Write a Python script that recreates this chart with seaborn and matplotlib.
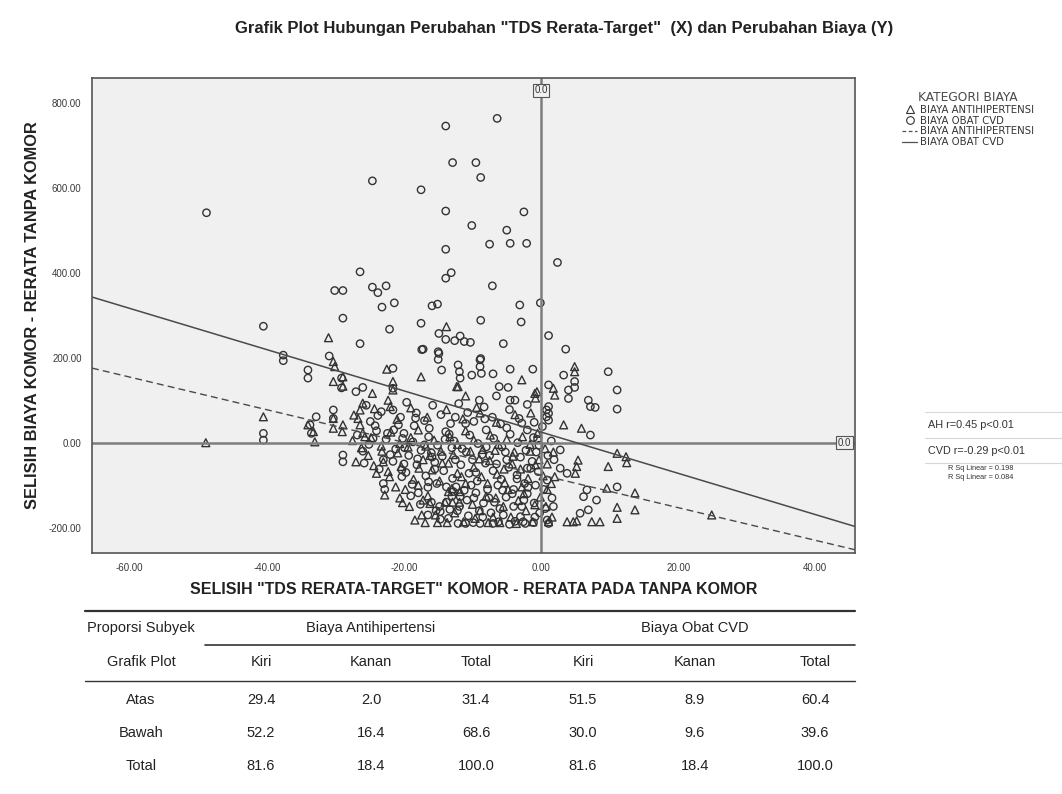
import numpy as np
import pandas as pd
import matplotlib
matplotlib.use("Agg")
import matplotlib.pyplot as plt
import seaborn as sns
from matplotlib.lines import Line2D
from matplotlib.transforms import blended_transform_factory

# -------------------------------------
# DATA
# -------------------------------------
# BIAYA OBAT CVD (circles)
cvd_x = [-48.8, -24.6, -13.9, -6.4, -12.9, -9.5, -8.8, -17.5, -13.9, -2.5,
         -10.1, -5.0, -7.5, -4.5, -2.1, -13.9, 2.4, -26.4, -13.1, -13.9,
         -7.1, -30.1, -28.9, -24.6, -23.8, -22.6, -21.4, -23.2, -15.9, -15.1,
         -3.1, -0.1, 1.1, -2.9, -8.8, -5.5, -17.5, -22.1, -28.9, -26.4,
         -17.4, -40.5, -14.9, -13.9, -12.6, -11.8, -11.2, -10.3, -14.9, -8.8,
         -37.6, -37.6, -34.0, -34.0, -30.9, -29.1, -29.1, -21.6, -27.0, -26.0,
         -21.6, -23.3, -21.6, -30.3, -30.3, -32.8, -33.7, -33.5, -40.5, -40.5,
         -17.2, -15.0, -15.0, -14.5, -12.1, -11.9, -11.8, -8.9, -8.9, -8.7,
         -10.1, -7.0, -4.5, -1.2, -6.1, -4.8, -4.5, -3.8, 0.8, 0.8,
         3.6, 3.3, 9.8, 1.1, 4.0, 4.0, 11.1, 11.1, 6.9, 7.2,
         7.9, 1.1, 1.1, 1.1, 7.2, 2.8, 11.1, 3.8, 2.8, 6.7,
         6.2, 8.1, 6.9, 5.7, -28.9, -28.9, -23.0, -20.3, -20.3, -12.1,
         -8.9, -2.3, -1.1, 1.1, -16.5, -14.7, -13.3, -16.4, -15.2, -13.8,
         -12.8, -11.8, -10.8, 4.9, 4.9,
         -25.5, -23.8, -19.6, -18.2, -17.0, -15.8, -14.6, -13.2, -12.0, -10.7,
         -9.8, -8.3, -7.1, -5.9, -4.6, -3.2, -2.0, -1.0, -20.8, -16.3,
         -26.8, -25.1, -24.0, -22.6, -21.2, -20.0, -18.7, -17.5, -16.4, -15.1,
         -13.9, -12.7, -11.5, -10.4, -9.2, -8.0, -6.9, -5.7, -4.5, -3.4,
         -2.2, -1.1, -0.3, 1.5, -19.3, -14.4, -8.6, -3.0,
         -25.8, -23.6, -21.6, -19.7, -18.1, -16.8, -15.5, -14.2, -12.9, -11.7,
         -10.5, -9.3, -8.1, -7.0, -5.8, -4.7, -3.5, -2.4, -1.3, -0.4,
         0.9, -18.8, -6.3,
         -17.9, -16.0, -14.7, -13.0, -11.9, -10.6, -9.5, -8.4, -7.3, -6.2,
         -5.1, -4.0, -3.0, -2.0, -1.0, -0.2, 0.9, 1.6, -9.9, -4.6,
         -7.8, -12.4, -15.3, -2.6, 0.4,
         -24.2, -22.0, -20.5, -18.0, -16.0, -13.0, -10.0, -7.5, -5.0, -2.0,
         0.2, -12.5, -9.0, -6.5, -1.5, -4.0, -6.8, -9.0, -11.2, -13.8,
         -2.8, -0.8, 1.8, -5.5, -7.0,
         -26.0, -24.5, -23.0, -21.5, -20.0, -18.5, -17.0, -15.5, -14.0, -12.5,
         -11.0, -9.5, -8.0, -6.5, -5.0, -3.5, -2.0, -0.5, 1.0,
         -22.8, -19.0, -16.5, -14.8, -12.2, -10.2, -8.5, -6.0, -4.2, -2.5,
         -0.9, 0.6, -17.6, -13.5, -9.8, -5.6, -1.9, -11.0, -7.6, -3.8,
         -20.2, -18.3, -15.9, -13.4, -10.9, -8.2, -5.2, -2.8, -0.7, 1.9,
         -24.9, -22.4, -19.9]
cvd_y = [541, 616, 745, 763, 659, 659, 624, 595, 545, 543,
         511, 500, 467, 469, 469, 455, 424, 402, 400, 387,
         369, 358, 358, 366, 353, 369, 329, 319, 322, 326,
         324, 329, 252, 284, 288, 233, 281, 267, 293, 233,
         219, 274, 257, 243, 240, 251, 238, 236, 210, 198,
         206, 193, 171, 152, 204, 152, 129, 175, 120, 130,
         128, 73, 77, 77, 57, 61, 42, 22, 22, 6,
         220, 214, 196, 171, 183, 167, 152, 195, 179, 163,
         159, 162, 173, 173, 132, 130, 100, 100, 77, 61,
         220, 159, 167, 136, 124, 104, 124, 79, 100, 85,
         83, 85, 69, 53, 18, -17, -104, -72, -60, -111,
         -127, -135, -158, -166, -29, -45, -96, -80, -64, -190,
         -190, -190, -188, -190, -170, -162, -157, -92, -96, -104,
         -115, -127, -135, 144, 130,
         88, 64, 95, 70, 52, 88, 66, 45, 92, 71,
         50, 84, 60, 44, 78, 57, 90, 48, 42, 34,
         18, -4, 28, 8, -15, 22, 2, -18, 14, -6,
         26, 4, -14, 18, -2, 30, 10, -10, 20, 0,
         -18, 12, -6, 4, -30, -32, -28, -34,
         -48, -62, -44, -70, -52, -78, -46, -66, -84, -52,
         -72, -90, -48, -66, -86, -58, -76, -96, -44, -68,
         -88, -98, -100,
         -118, -140, -180, -126, -150, -172, -118, -142, -165, -186,
         -128, -150, -174, -120, -142, -165, -182, -130, -188, -192,
         -110, -104, -160, -186, -110,
         40, -28, 60, -38, -24, -12, -40, -30, -40, 30,
         38, 60, 100, 110, -60, -110, -140, -160, -112, -140,
         -150, -100, -150, -170, -190,
         -20, 10, -40, 30, -50, 40, -5, -62, 8, -40,
         45, -70, -10, -50, 35, -85, -60, 8, -30,
         -110, -125, -105, -150, -160, -100, -175, -155, -120, -135,
         -175, -155, -145, -178, -130, -112, -105, -190, -130, -185,
         10, 58, -34, 20, -22, 56, -22, 46, -22, -40,
         50, 22, -12]

# BIAYA ANTIHIPERTENSI (triangles)
ah_x = [-48.9, -40.5, -34.0, -33.2, -33.0, -31.0, -30.3, -30.1, -30.3, -28.9,
        -28.9, -24.6, -22.5, -21.6, -21.6, -17.5, -13.8, -9.4, -2.8, -30.3,
        -28.9, -30.3, -29.0, -27.3, -26.4, -26.0, -22.3, -22.0, -26.7, -26.4,
        -26.0, -25.7, -27.0, -24.0, -22.3, -22.8, -20.2, -17.2, -16.2, -13.5,
        -11.8, 4.9, 4.9, 1.8, 2.0, 3.3, 5.9, 11.1, 12.4, 12.5,
        9.8, 13.7, 11.1, 13.7, 11.1, 1.1, 3.8, 4.7, 5.2, 7.4,
        8.6, 5.4, 5.2, 5.0, 9.6, 24.9, -12.3, -0.9,
        -24.3, -21.0, -19.0, -16.6, -13.8, -11.4, -8.9, -6.5, -3.8, -1.5,
        -12.1, -11.0, -0.8, -0.6,
        -27.5, -26.2, -24.8, -23.3, -21.9, -20.6, -19.0, -17.9, -16.8, -15.6,
        -14.6, -13.3, -12.2, -11.0, -9.8, -8.5, -7.4, -6.2, -5.0, -3.9,
        -2.7, -1.6, -0.5, 0.6, 1.8,
        -24.4, -22.1, -20.4, -18.6, -17.2, -15.9, -14.8, -13.5, -12.2, -11.0,
        -9.8, -8.7, -7.5, -6.4, -5.3, -4.2, -3.0, -1.9, -0.8, 0.3, 1.5,
        -19.2, -17.4, -16.5, -14.0, -12.6, -11.3, -10.0, -8.9, -7.7, -6.6,
        -5.5, -4.4, -3.3, -2.2, -1.2, -0.1, 0.7, 1.6, -13.7, -8.0,
        -16.9, -18.4,
        -25.2, -23.0, -20.9, -19.4, -17.8, -16.2, -14.4, -12.8, -11.6, -10.3,
        -9.0, -7.8, -6.7, -5.4, -4.1, -2.8, -1.6, -0.3, 0.9, 2.0,
        -21.2, -19.8, -17.9, -15.4, -13.0, -11.9, -9.6, -7.0, -4.8, -2.5,
        -0.9, 0.9, -15.1, -12.9, -6.0, -3.6, -20.6, -23.2]
ah_y = [0, 61, 42, 26, 2, 247, 191, 179, 144, 155,
        133, 116, 173, 144, 124, 155, 273, 83, 148, 57,
        42, 34, 26, 65, 77, 93, 100, 85, 57, 42,
        23, 14, -45, -72, -68, -123, -141, -135, -143, -115,
        -115, 179, 167, 128, 112, 42, 34, -25, -33, -47,
        -56, -118, -152, -158, -178, -186, -186, -186, -184, -186,
        -186, -41, -56, -72, -107, -170, 132, 116,
        80, 55, 82, 60, 78, 56, 70, 48, 66, 70,
        132, 110, 105, 120,
        5, -12, 12, -8, 25, -2, 12, 30, -8, 6,
        -20, 14, -4, 28, 6, -16, 18, -4, 8, -22,
        14, -4, 22, -14, -22,
        -54, -80, -56, -86, -40, -64, -90, -48, -72, -96,
        -58, -80, -42, -74, -94, -50, -62, -84, -52, -78, -96,
        -150, -170, -125, -140, -165, -186, -145, -160, -188, -130,
        -150, -175, -136, -160, -186, -128, -150, -175, -188, -126,
        -188, -182,
        -30, -45, -24, -10, -60, -30, -48, -28, -80, -20,
        -38, -96, -18, -62, -32, -104, -20, -40, -50, -80,
        -104, -110, -100, -170, -108, -140, -178, -175, -110, -120,
        -146, -110, -188, -140, -188, -190, -130, -20]

# fitted linear lines (intercept, slope)
ah_fit = (-76, -3.84)
cvd_fit = (25, -4.85)

x_ticks = [-60, -40, -20, 0, 20, 40]
y_ticks = [-200, 0, 200, 400, 600, 800]

# table below the chart
tbl_groups = ["Biaya Antihipertensi", "Biaya Obat CVD"]
tbl_cols = ["Kiri", "Kanan", "Total", "Kiri", "Kanan", "Total"]
tbl_rows = ["Atas", "Bawah", "Total"]
tbl_vals = [["29.4", "2.0", "31.4", "51.5", "8.9", "60.4"],
            ["52.2", "16.4", "68.6", "30.0", "9.6", "39.6"],
            ["81.6", "18.4", "100.0", "81.6", "18.4", "100.0"]]

df = pd.concat([
    pd.DataFrame({"x": ah_x, "y": ah_y, "kategori": "BIAYA ANTIHIPERTENSI"}),
    pd.DataFrame({"x": cvd_x, "y": cvd_y, "kategori": "BIAYA OBAT CVD"}),
])

# -------------------------------------
# FIGURE
# -------------------------------------
sns.set_style("white")
plt.rcParams["font.family"] = ["Liberation Sans", "DejaVu Sans"]

W, H = 1062, 794
fig = plt.figure(figsize=(W / 100, H / 100), dpi=100)


def fx(px):
    return px / W


def fy(py):
    return 1 - py / H


ax = fig.add_axes([fx(92), fy(553), fx(855) - fx(92), fy(78) - fy(553)])
ax.set_facecolor("#f0f0f0")

edge = "#333333"
sns.scatterplot(data=df[df.kategori == "BIAYA OBAT CVD"], x="x", y="y", marker="o",
                s=28, facecolors="none", edgecolor=edge, linewidth=1.0, ax=ax, legend=False)
sns.scatterplot(data=df[df.kategori == "BIAYA ANTIHIPERTENSI"], x="x", y="y", marker="^",
                s=32, facecolors="none", edgecolor=edge, linewidth=1.0, ax=ax, legend=False)

# reference lines at 0
ax.axhline(0, color="#7d7d7d", lw=1.8, zorder=1)
ax.axvline(0, color="#7d7d7d", lw=1.8, zorder=1)

# fit lines
ax.axline((0, ah_fit[0]), slope=ah_fit[1], color="#4a4a4a", lw=1.0, ls=(0, (5, 3)))
ax.axline((0, cvd_fit[0]), slope=cvd_fit[1], color="#4a4a4a", lw=1.1)

ax.set_xlim(-65.5, 45.8)
ax.set_ylim(-259.5, 858)
ax.set_xticks(x_ticks)
ax.set_yticks(y_ticks)
ax.set_xticklabels([f"{v:.2f}" for v in x_ticks])
ax.set_yticklabels([f"{v:.2f}" for v in y_ticks])
ax.tick_params(labelsize=7, colors="#3a3a3a", length=4, width=0.8, direction="out")
ax.tick_params(axis="x", pad=3)
for sp in ax.spines.values():
    sp.set_color("#555555")
    sp.set_linewidth(1.2)

ax.set_xlabel('SELISIH "TDS RERATA-TARGET" KOMOR - RERATA PADA TANPA KOMOR',
              fontsize=11.5, fontweight="bold", color="#222222", labelpad=7)
ax.set_ylabel("SELISIH BIAYA KOMOR - RERATA TANPA KOMOR",
              fontsize=11.8, fontweight="bold", color="#222222", labelpad=6)

# "0.0" boxes on the reference lines
box = dict(boxstyle="square,pad=0.15", fc="#f0f0f0", ec="#555555", lw=0.8)
ax.text(0, 0.985, "0.0", transform=blended_transform_factory(ax.transData, ax.transAxes),
        ha="center", va="top", fontsize=7, bbox=box, color="#333333")
ax.text(0.995, 0, "0.0", transform=blended_transform_factory(ax.transAxes, ax.transData),
        ha="right", va="center", fontsize=7, bbox=box, color="#333333")

# title
fig.text(fx(564), fy(28), 'Grafik Plot Hubungan Perubahan "TDS Rerata-Target"  (X) dan Perubahan Biaya (Y)',
         ha="center", va="center", fontsize=12, fontweight="bold", color="#222222")

# legend
handles = [
    Line2D([], [], marker="^", ls="none", mfc="none", mec=edge, ms=5.5, mew=0.8),
    Line2D([], [], marker="o", ls="none", mfc="none", mec=edge, ms=5.5, mew=0.8),
    Line2D([], [], color="#505050", lw=0.9, ls=(0, (3, 2))),
    Line2D([], [], color="#505050", lw=0.9),
]
labels = ["BIAYA ANTIHIPERTENSI", "BIAYA OBAT CVD", "BIAYA ANTIHIPERTENSI", "BIAYA OBAT CVD"]
leg = fig.legend(handles, labels, title="KATEGORI BIAYA", loc="upper left",
                 bbox_to_anchor=(fx(898), fy(87)), frameon=False,
                 prop={"family": "DejaVu Sans", "size": 7.3},
                 title_fontproperties={"family": "DejaVu Sans", "size": 8.8},
                 handlelength=1.5, handletextpad=0.3,
                 labelspacing=0.08, borderaxespad=0)
leg.get_title().set_color("#4a4a4a")
for t in leg.get_texts():
    t.set_color("#333333")

# r / R sq notes
for py in [412, 438, 463]:
    fig.add_artist(Line2D([fx(925), fx(1062)], [fy(py), fy(py)], color="#d8d8d8", lw=0.8))
fig.text(fx(928), fy(425), "AH r=0.45 p<0.01", fontsize=7.8, va="center", color="#333333")
fig.text(fx(928), fy(451), "CVD r=-0.29 p<0.01", fontsize=7.8, va="center", color="#333333")
fig.text(fx(948), fy(469), "R Sq Linear = 0.198", fontsize=5.3, va="center", color="#333333")
fig.text(fx(948), fy(477), "R Sq Linear = 0.084", fontsize=5.3, va="center", color="#333333")

# -------------------------------------
# TABLE
# -------------------------------------
tfont = ["Liberation Sans Narrow", "Liberation Sans"]
col_x = [141, 261, 371, 476, 583, 695, 815]
fig.add_artist(Line2D([fx(85), fx(855)], [fy(611), fy(611)], color="#333333", lw=1.6))
fig.add_artist(Line2D([fx(205), fx(855)], [fy(645), fy(645)], color="#333333", lw=1.2))
fig.add_artist(Line2D([fx(85), fx(855)], [fy(681), fy(681)], color="#333333", lw=1.0))
fig.text(fx(col_x[0]), fy(628), "Proporsi Subyek", ha="center", va="center", fontsize=10.5,
         family=tfont, color="#222222")
fig.text(fx(col_x[2]), fy(628), tbl_groups[0], ha="center", va="center", fontsize=10.5,
         family=tfont, color="#222222")
fig.text(fx(col_x[5]), fy(628), tbl_groups[1], ha="center", va="center", fontsize=10.5,
         family=tfont, color="#222222")
fig.text(fx(col_x[0]), fy(662), "Grafik Plot", ha="center", va="center", fontsize=10.5,
         family=tfont, color="#222222")
for c, name in zip(col_x[1:], tbl_cols):
    fig.text(fx(c), fy(662), name, ha="center", va="center", fontsize=10.5, family=tfont, color="#222222")
row_y = [700, 733, 766]
for ry, rname, vals in zip(row_y, tbl_rows, tbl_vals):
    fig.text(fx(col_x[0]), fy(ry), rname, ha="center", va="center", fontsize=10.5, family=tfont, color="#222222")
    for c, v in zip(col_x[1:], vals):
        fig.text(fx(c), fy(ry), v, ha="center", va="center", fontsize=10.5, family=tfont, color="#222222")

fig.savefig("out.png", dpi=100, facecolor="white")
